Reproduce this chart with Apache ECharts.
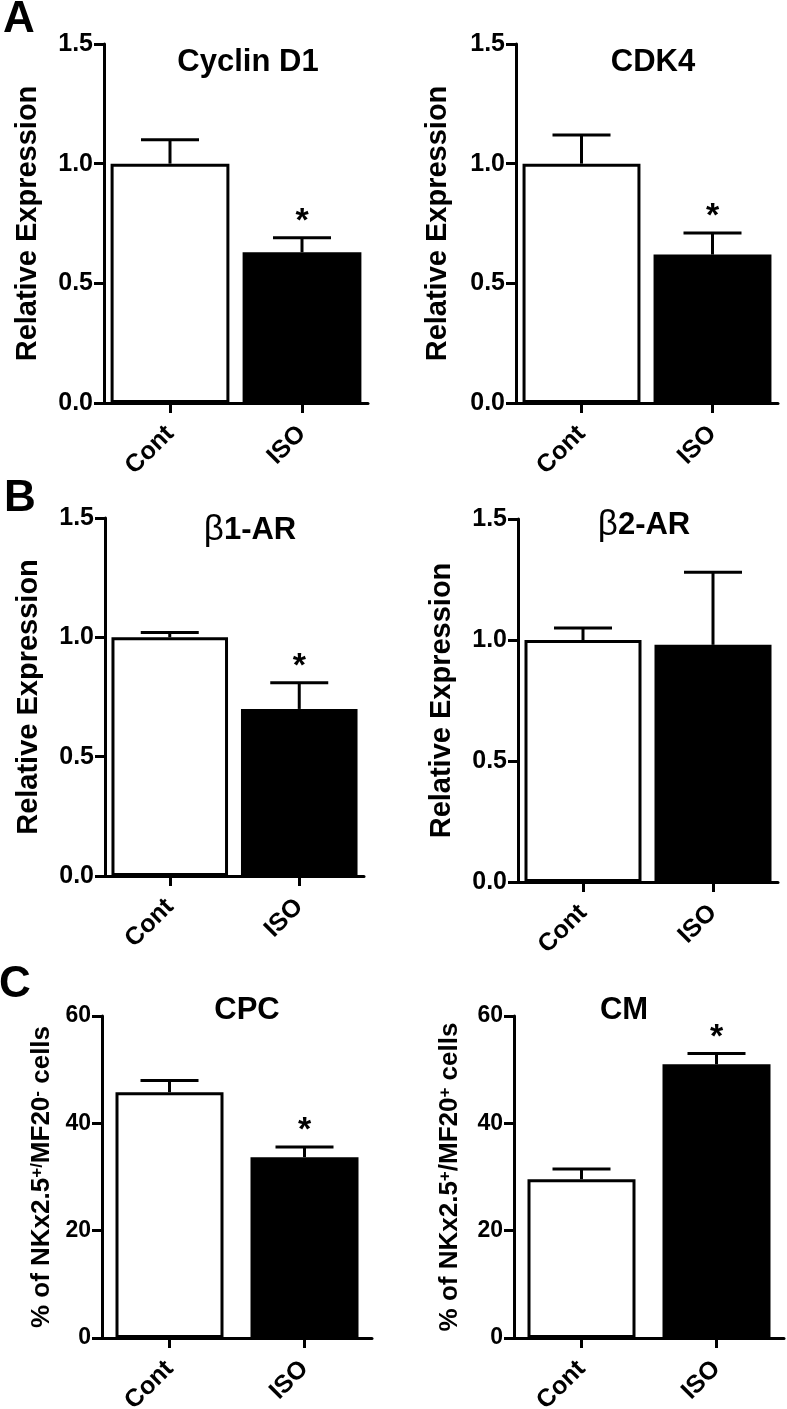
<!DOCTYPE html>
<html>
<head>
<meta charset="utf-8">
<script src="https://cdn.jsdelivr.net/npm/echarts@6/dist/echarts.min.js"></script>
<style>
html, body { margin: 0; padding: 0; background: #fff; }
#chart { width: 787px; height: 1409px; }
</style>
</head>
<body>
<div id="chart"></div>
<script>
// data (mean, SEM, significance star)
const groups = ["Cont", "ISO"];

const cyclinMean = [1.0, 0.63];
const cyclinSem = [0.10, 0.06];
const cyclinSig = [0, 1];

const cdk4Mean = [1.0, 0.62];
const cdk4Sem = [0.12, 0.09];
const cdk4Sig = [0, 1];

const beta1Mean = [1.0, 0.70];
const beta1Sem = [0.02, 0.11];
const beta1Sig = [0, 1];

const beta2Mean = [1.0, 0.98];
const beta2Sem = [0.05, 0.30];
const beta2Sig = [0, 0];

const cpcMean = [45.8, 33.7];
const cpcSem = [2.2, 1.9];
const cpcSig = [0, 1];

const cmMean = [29.6, 51.0];
const cmSem = [1.9, 2.0];
const cmSig = [0, 1];

const exprTicks = [0, 1.5, 0.5];   // min, max, interval
const pctTicks = [0, 60, 20];

const FONT = '"Liberation Sans", Arial, Helvetica, sans-serif';

// panel layout
const panels = [
  { mean: cyclinMean, sem: cyclinSem, sig: cyclinSig, ticks: exprTicks, dec: 1,
    grid: { left: 104, top: 44, width: 264, height: 359 }, barWidth: "90%",
    yName: "Relative Expression", nameGap: 62, nameSize: 29, labelSize: 25 },
  { mean: cdk4Mean, sem: cdk4Sem, sig: cdk4Sig, ticks: exprTicks, dec: 1,
    grid: { left: 516, top: 44, width: 262, height: 359 }, barWidth: "90%",
    yName: "Relative Expression", nameGap: 64, nameSize: 29, labelSize: 25 },
  { mean: beta1Mean, sem: beta1Sem, sig: beta1Sig, ticks: exprTicks, dec: 1,
    grid: { left: 105, top: 518, width: 259, height: 358 }, barWidth: "90%",
    yName: "Relative Expression", nameGap: 62, nameSize: 29, labelSize: 25 },
  { mean: beta2Mean, sem: beta2Sem, sig: beta2Sig, ticks: exprTicks, dec: 1,
    grid: { left: 518, top: 519, width: 260, height: 363 }, barWidth: "90%",
    yName: "Relative Expression", nameGap: 62, nameSize: 29, labelSize: 25 },
  { mean: cpcMean, sem: cpcSem, sig: cpcSig, ticks: pctTicks, dec: 0,
    grid: { left: 102, top: 1016, width: 270, height: 322 }, barWidth: "80%",
    yName: "% of NKx2.5{sup|+/}MF20{sup|-} cells", nameGap: 47, nameSize: 26, labelSize: 23 },
  { mean: cmMean, sem: cmSem, sig: cmSig, ticks: pctTicks, dec: 0,
    grid: { left: 514, top: 1016, width: 270, height: 322 }, barWidth: "80%",
    yName: "% of NKx2.5{sup|+}/MF20{sup|+} cells", nameGap: 51, nameSize: 26, labelSize: 23 }
];

const titles = [
  { text: "Cyclin D1", x: 248, y: 62 },
  { text: "CDK4", x: 653, y: 62 },
  { text: "{g|β}1-AR", x: 250, y: 530 },
  { text: "{g|β}2-AR", x: 644, y: 525 },
  { text: "CPC", x: 247, y: 1010 },
  { text: "CM", x: 624, y: 1010 }
];

const letters = [
  { text: "A", x: 19, y: 20 },
  { text: "B", x: 20, y: 499 },
  { text: "C", x: 15, y: 985 }
];

function renderErr(params, api) {
  const c = api.value(0);
  const m = api.value(1);
  const s = api.value(2);
  const sig = api.value(3);
  const base = api.coord([c, m]);
  const top = api.coord([c, m + s]);
  const half = 29;
  const children = [
    { type: "line", shape: { x1: base[0], y1: base[1], x2: top[0], y2: top[1] },
      style: { stroke: "#000", lineWidth: 3 } },
    { type: "line", shape: { x1: top[0] - half, y1: top[1], x2: top[0] + half, y2: top[1] },
      style: { stroke: "#000", lineWidth: 3 } }
  ];
  if (sig) {
    children.push({
      type: "text", x: top[0], y: top[1] - 16,
      style: { text: "*", fontSize: 34, fontWeight: "bold", fontFamily: FONT,
        fill: "#000", align: "center", verticalAlign: "middle" }
    });
  }
  return { type: "group", children: children };
}

const grids = [], xAxes = [], yAxes = [], series = [];

panels.forEach((p, i) => {
  grids.push(Object.assign({ outerBoundsMode: "none", containLabel: false }, p.grid));
  xAxes.push({
    type: "category", gridIndex: i, data: groups,
    axisLine: { show: true, lineStyle: { color: "#000", width: 3 } },
    axisTick: { show: true, alignWithLabel: true, length: 10, lineStyle: { color: "#000", width: 3 } },
    axisLabel: { rotate: 45, margin: 27, fontSize: 25, fontWeight: "bold", color: "#000", fontFamily: FONT },
    splitLine: { show: false }
  });
  yAxes.push({
    type: "value", gridIndex: i,
    min: p.ticks[0], max: p.ticks[1], interval: p.ticks[2],
    axisLine: { show: true, lineStyle: { color: "#000", width: 3 } },
    axisTick: { show: true, length: 10, lineStyle: { color: "#000", width: 3 } },
    splitLine: { show: false },
    axisLabel: { fontSize: p.labelSize, fontWeight: "bold", color: "#000", fontFamily: FONT, margin: 11,
      formatter: v => v.toFixed(p.dec) },
    name: p.yName, nameLocation: "middle", nameRotate: 90, nameGap: p.nameGap,
    nameTextStyle: { fontSize: p.nameSize, fontWeight: "bold", color: "#000", fontFamily: FONT,
      rich: { sup: { fontSize: 17, fontWeight: "bold", color: "#000", fontFamily: FONT, verticalAlign: "top" } } }
  });
  series.push({
    type: "bar", xAxisIndex: i, yAxisIndex: i, barWidth: p.barWidth, silent: true,
    data: p.mean.map((v, j) => ({
      value: v,
      itemStyle: { color: j === 0 ? "#fff" : "#000", borderColor: "#000", borderWidth: 3 }
    }))
  });
  series.push({
    type: "custom", xAxisIndex: i, yAxisIndex: i, silent: true, z: 5,
    renderItem: renderErr,
    data: p.mean.map((v, j) => [j, v, p.sem[j], p.sig[j]])
  });
});

const graphics = [];
titles.forEach(t => {
  graphics.push({
    type: "text", x: t.x, y: t.y,
    style: { text: t.text, fontSize: 31, fontWeight: "bold", fontFamily: FONT, fill: "#000",
      align: "center", verticalAlign: "middle",
      rich: { g: { fontSize: 35, fontWeight: "normal", fontFamily: FONT, fill: "#000" } } }
  });
});
letters.forEach(t => {
  graphics.push({
    type: "text", x: t.x, y: t.y,
    style: { text: t.text, fontSize: 44, fontWeight: "bold", fontFamily: FONT, fill: "#000",
      align: "center", verticalAlign: "middle" }
  });
});

const chart = echarts.init(document.getElementById("chart"), null, { renderer: "canvas" });
chart.setOption({
  animation: false,
  backgroundColor: "#fff",
  grid: grids,
  xAxis: xAxes,
  yAxis: yAxes,
  series: series,
  graphic: graphics
});
</script>
</body>
</html>
